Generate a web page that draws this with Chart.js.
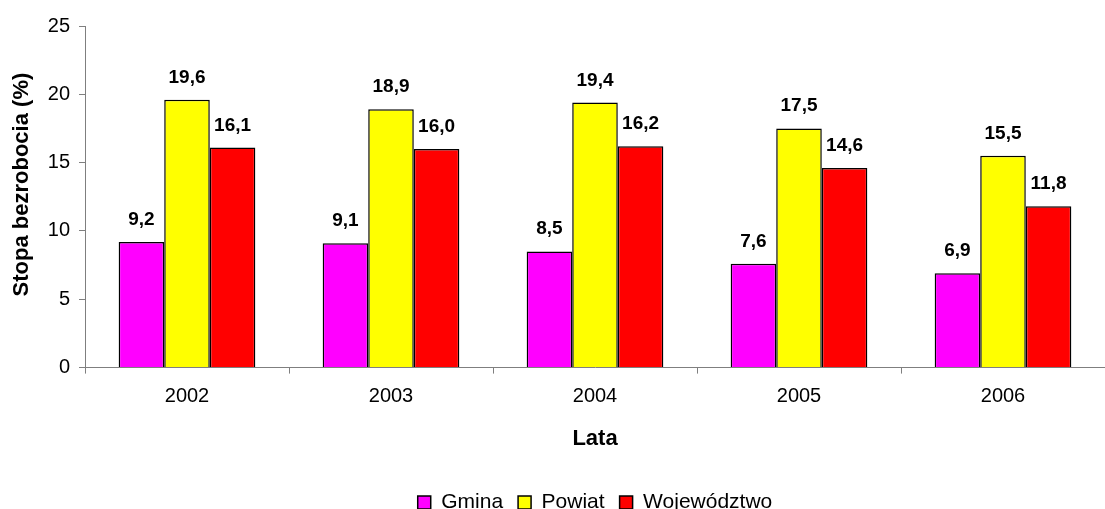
<html>
<head>
	<meta charset="utf-8">
	<title>Stopa bezrobocia</title>
	<style>
		html, body {
			margin: 0;
			padding: 0;
			background: #fff;
		}
		#app {
			width: 1105px;
			height: 509px;
		}
	</style>
</head>
<body>

	<div id="app">
		<canvas id="chart"></canvas>
	</div>

	<script src="https://cdn.jsdelivr.net/npm/chart.js@4.4.1/dist/chart.umd.min.js"></script>
	<script>
		// data
		var years = ['2002', '2003', '2004', '2005', '2006'];
		var gmina = [9.2, 9.1, 8.5, 7.6, 6.9];
		var powiat = [19.6, 18.9, 19.4, 17.5, 15.5];
		var wojewodztwo = [16.1, 16.0, 16.2, 14.6, 11.8];
		var yTicks = [0, 5, 10, 15, 20, 25];

		var axisGray = '#7f7f7f';
		var fontFamily = '"Liberation Sans", Arial, sans-serif';

		// value labels over the bars, with a comma as decimal mark
		var barLabels = {
			id: 'barLabels',
			afterDatasetsDraw: function (chart) {
				var ctx = chart.ctx;
				ctx.save();
				ctx.font = 'bold 19px ' + fontFamily;
				ctx.fillStyle = '#000';
				ctx.textAlign = 'center';
				ctx.textBaseline = 'alphabetic';
				chart.data.datasets.forEach(function (ds, i) {
					chart.getDatasetMeta(i).data.forEach(function (bar, j) {
						ctx.fillText(ds.data[j].toFixed(1).replace('.', ','), bar.x, bar.y - 17);
					});
				});
				ctx.restore();
			}
		};

		var ctx = document.getElementById('chart').getContext('2d');

		var myChart = new Chart(ctx, {
			type: 'bar',
			data: {
				labels: years,
				datasets: [
					{label: 'Gmina', data: gmina, backgroundColor: '#ff00ff', borderColor: '#000', borderWidth: 1.5},
					{label: 'Powiat', data: powiat, backgroundColor: '#ffff00', borderColor: '#000', borderWidth: 1.5},
					{label: 'Województwo', data: wojewodztwo, backgroundColor: '#ff0000', borderColor: '#000', borderWidth: 1.5}
				]
			},
			options: {
				responsive: true,
				maintainAspectRatio: false,
				animation: false,
				layout: {padding: {top: 26, right: 0, bottom: -14, left: 0}},
				datasets: {bar: {categoryPercentage: 0.67, barPercentage: 1.0}},
				plugins: {
					tooltip: {enabled: false},
					legend: {
						position: 'bottom',
						fullSize: false,
						labels: {
							color: '#000',
							font: {family: fontFamily, size: 21},
							boxWidth: 13,
							boxHeight: 13,
							padding: 15
						}
					}
				},
				scales: {
					x: {
						grid: {display: true, drawOnChartArea: false, drawTicks: true, tickLength: 6, color: axisGray},
						border: {color: axisGray, width: 1},
						ticks: {color: '#000', padding: 11, font: {family: fontFamily, size: 20}},
						title: {
							display: true,
							text: 'Lata',
							color: '#000',
							font: {family: fontFamily, size: 22, weight: 'bold'},
							padding: {top: 6, bottom: 25}
						}
					},
					y: {
						min: 0,
						max: 25,
						afterBuildTicks: function (scale) {
							scale.ticks = yTicks.map(function (v) { return {value: v}; });
						},
						afterFit: function (scale) {
							scale.width = 85;
						},
						grid: {display: true, drawOnChartArea: false, drawTicks: true, tickLength: 6, color: axisGray},
						border: {color: axisGray, width: 1},
						ticks: {color: '#000', padding: 9, font: {family: fontFamily, size: 20}},
						title: {
							display: true,
							// leading spaces nudge the title up a bit, like in the original
							text: '    Stopa bezrobocia (%)',
							color: '#000',
							font: {family: fontFamily, size: 22, weight: 'bold'},
							padding: {top: 9, bottom: 0}
						}
					}
				}
			},
			plugins: [barLabels]
		});
	</script>
</body>
</html>
